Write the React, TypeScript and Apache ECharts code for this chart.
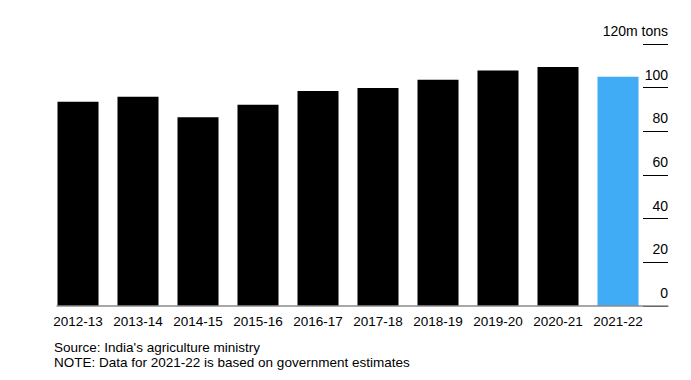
import React, { useEffect, useRef } from "react";
import * as echarts from "echarts";

const categories = ["2012-13", "2013-14", "2014-15", "2015-16", "2016-17", "2017-18", "2018-19", "2019-20", "2020-21", "2021-22"];
const values = [93.5, 95.8, 86.5, 92.2, 98.5, 99.9, 103.6, 107.9, 109.5, 105.0];
const estimateIndex = 9;
const yTicks = [0, 20, 40, 60, 80, 100, 120];
const sourceText = "Source: India's agriculture ministry";
const noteText = "NOTE: Data for 2021-22 is based on government estimates";

const FONT = "'Liberation Sans', Arial, Helvetica, sans-serif";

export default function App() {
  const ref = useRef<HTMLDivElement>(null);
  useEffect(() => {
    if (!ref.current) return;
    const chart = echarts.init(ref.current, null, { renderer: "svg" });
    const top = 44;
    const bottom = 74;
    chart.setOption({
      animation: false,
      backgroundColor: "#ffffff",
      textStyle: { fontFamily: FONT },
      title: [
        {
          text: sourceText + "\n" + noteText,
          left: 54,
          top: 340,
          padding: 0,
          textStyle: { fontFamily: FONT, fontSize: 13.5, fontWeight: "normal", color: "#000", lineHeight: 15 },
        },
      ],
      grid: [
        { left: 48, right: 43, top, bottom },
        { left: 57, right: 23, top, bottom },
      ],
      xAxis: [
        {
          type: "category",
          gridIndex: 0,
          data: categories,
          axisLine: { show: false },
          axisTick: { show: false },
          axisLabel: { color: "#000", fontSize: 13.5, fontFamily: FONT, margin: 8, interval: 0 },
        },
        {
          type: "value",
          gridIndex: 1,
          min: 0,
          max: 1,
          z: 5,
          axisLine: { show: true, onZero: false, lineStyle: { color: "#8c8c8c", width: 1.5 } },
          axisTick: { show: false },
          axisLabel: { show: false },
          splitLine: { show: false },
        },
      ],
      yAxis: [
        {
          type: "value",
          gridIndex: 0,
          min: 0,
          max: 120,
          interval: 20,
          show: false,
        },
        {
          type: "value",
          gridIndex: 1,
          position: "right",
          min: 0,
          max: 120,
          interval: 20,
          z: 1,
          axisLine: { show: false, onZero: false },
          splitLine: { show: false },
          axisTick: { show: true, inside: true, length: 25, lineStyle: { color: "#000", width: 1 } },
          axisLabel: {
            color: "#000",
            fontSize: 14,
            fontFamily: FONT,
            align: "right",
            verticalAlign: "bottom",
            margin: 0,
            lineHeight: 14,
            padding: [0, 0, 6, 0],
            formatter: (v: number) => (v === yTicks[yTicks.length - 1] ? v + "m tons" : String(v)),
          },
        },
      ],
      series: [
        {
          type: "bar",
          xAxisIndex: 0,
          yAxisIndex: 0,
          barWidth: 41,
          data: values.map((v, i) => ({
            value: v,
            itemStyle: { color: i === estimateIndex ? "#40acf6" : "#000000" },
          })),
        },
      ],
    });
    return () => chart.dispose();
  }, []);
  return <div ref={ref} style={{ width: 691, height: 380, position: "absolute", left: 0, top: 0 }} />;
}
